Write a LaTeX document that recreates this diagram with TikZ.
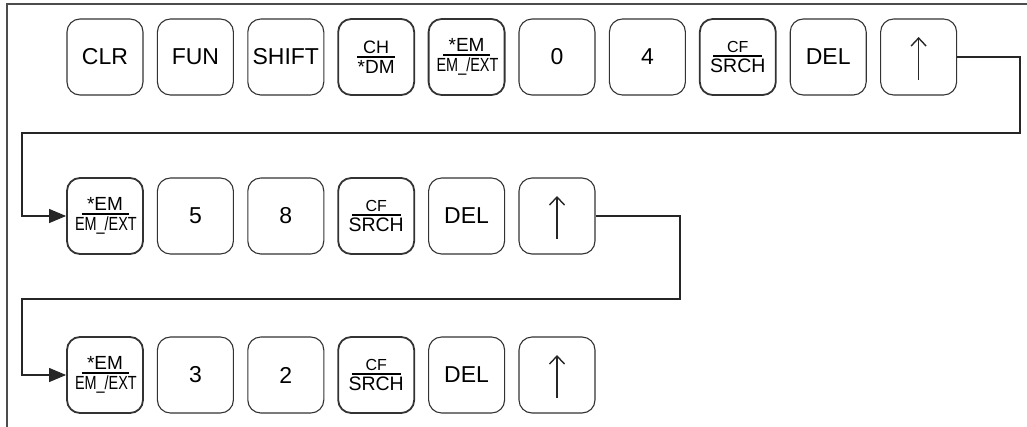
\documentclass[tikz,border=0pt]{standalone}
\usepackage{graphicx}
\usepackage{fontspec}
\setmainfont{Liberation Sans}
\usetikzlibrary{calc}
\usetikzlibrary{arrows.meta}

\newcommand{\fs}[1]{\fontsize{#1pt}{#1pt}\selectfont}
% stacked key legend: top, bottom, rule width, top size, bottom size
\newcommand{\keyfrac}[5]{\vbox{\offinterlineskip
  \hbox to 60pt{\hfil\fs{#4}#1\hfil}\kern3pt
  \hbox to 60pt{\hfil\rule{#3}{1.3pt}\hfil}\kern2.5pt
  \hbox to 60pt{\hfil\fs{#5}#2\hfil}}}
\newcommand{\chkey}{\keyfrac{CH}{*DM}{38pt}{18}{19}}
\newcommand{\emkey}{\keyfrac{*EM}{\scalebox{0.76}[1]{EM\_/EXT}}{47pt}{19}{19}}
\newcommand{\cfkey}{\keyfrac{CF}{SRCH}{49pt}{16}{19.5}}

\begin{document}
\begin{tikzpicture}[x=1pt,y=-1pt,
  key/.style={draw=black!80,line width=1.1pt,rounded corners=13pt,
    minimum width=76pt,minimum height=76pt,inner sep=0pt,font=\fs{23}},
  fkey/.style={key,line width=1.8pt},
  wire/.style={draw=black!85,line width=1.1pt},
  feed/.style={wire,-{Triangle[length=17pt,width=14pt]}},
  uptip/.style={draw=black!85,line width=1.4pt,-{Straight Barb[length=8pt,width=15pt]}}]

\useasboundingbox (0,0) rectangle (1027,426);
\clip (0,0) rectangle (1027,426);

% Frame
\draw[draw=black!70,line width=1.2pt] (7,4) rectangle (1040,440);

% Keys, row 1
\foreach \st/\lbl [count=\i] in {key/CLR,key/FUN,key/SHIFT,fkey/\chkey,fkey/\emkey,
    key/0,key/4,fkey/\cfkey,key/DEL,key/{}}
  \node[\st] (r1k\i) at ({105+90.4*(\i-1)},57) {\lbl};

% Keys, row 2
\foreach \st/\lbl [count=\i] in {fkey/\emkey,key/5,key/8,fkey/\cfkey,key/DEL,key/{}}
  \node[\st] (r2k\i) at ({105+90.4*(\i-1)},216) {\lbl};

% Keys, row 3
\foreach \st/\lbl [count=\i] in {fkey/\emkey,key/3,key/2,fkey/\cfkey,key/DEL,key/{}}
  \node[\st] (r3k\i) at ({105+90.4*(\i-1)},375) {\lbl};

% Up arrows
\foreach \k in {r1k10,r2k6,r3k6}
  \draw[uptip] ($(\k.center)+(0,23)$) -- ($(\k.center)+(0,-20)$);

% Line feeds
\coordinate (rt1) at (1020,133);
\coordinate (lf1) at (22,133);
\coordinate (rt2) at (680,299);
\coordinate (lf2) at (22,299);

\draw[feed] (r1k10.east) -| (rt1) -- (lf1) |- (r2k1.west);
\draw[feed] (r2k6.east) -| (rt2) -- (lf2) |- (r3k1.west);

\end{tikzpicture}
\end{document}
